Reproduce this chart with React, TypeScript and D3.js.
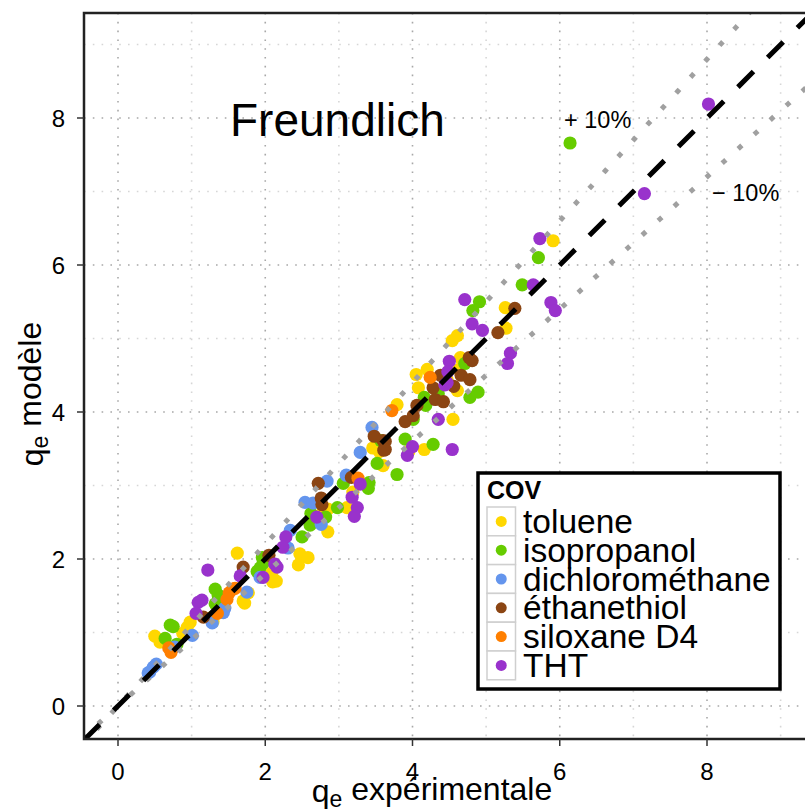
import React, { useEffect, useRef } from 'react';
import * as d3 from 'd3';

type Pt = [number, number];

// q_e expérimentale vs q_e modèle, one array per COV
const toluene: Pt[] = [
  [5.91, 6.33], [5.26, 5.42], [5.27, 5.14], [4.61, 5.04], [4.54, 4.97], [4.65, 4.74],
  [4.05, 4.51], [4.20, 4.58], [4.63, 4.58], [4.47, 4.44], [4.08, 4.33], [4.61, 4.29],
  [3.79, 4.10], [4.55, 3.90], [3.95, 3.46], [4.16, 3.49], [3.60, 3.27], [3.46, 3.51],
  [3.55, 3.46], [3.19, 2.91], [2.85, 2.68], [2.77, 2.62], [3.11, 2.70], [2.85, 2.37],
  [2.47, 2.07], [2.58, 2.02], [2.45, 1.92], [1.62, 2.08], [2.09, 1.81], [2.10, 1.69],
  [2.15, 1.70], [1.77, 1.54], [1.70, 1.43], [1.72, 1.40], [1.35, 1.36], [1.28, 1.21],
  [1.29, 1.15], [0.98, 1.14], [0.94, 1.07], [0.88, 0.99], [0.50, 0.95], [0.57, 0.87],
];
const isopropanol: Pt[] = [
  [6.14, 7.66], [5.71, 6.10], [5.49, 5.73], [4.91, 5.50], [4.82, 5.38], [4.71, 4.66],
  [4.16, 4.20], [4.18, 4.09], [4.35, 4.25], [4.78, 4.20], [4.89, 4.27], [4.01, 3.90],
  [3.90, 3.63], [4.28, 3.56], [3.79, 3.15], [3.57, 3.61], [3.52, 3.30], [3.06, 3.03],
  [3.41, 3.04], [3.40, 2.96], [2.98, 2.70], [2.62, 2.62], [2.61, 2.46], [2.82, 2.57],
  [2.50, 2.30], [1.96, 2.02], [1.97, 1.94], [1.93, 1.88], [1.89, 1.83], [1.32, 1.59],
  [1.36, 1.51], [1.32, 1.39], [1.37, 1.36], [0.71, 1.10], [0.75, 1.08], [0.64, 0.92],
  [0.80, 0.84],
];
const dichloromethane: Pt[] = [
  [3.45, 3.79], [3.29, 3.45], [3.10, 3.14], [2.84, 3.06], [2.54, 2.77], [2.65, 2.76],
  [2.76, 2.47], [2.34, 2.39], [2.31, 2.15], [1.93, 1.75], [1.75, 1.55], [1.45, 1.33],
  [1.43, 1.27], [1.28, 1.13], [1.01, 0.96], [0.77, 0.80], [0.43, 0.46], [0.48, 0.53],
  [0.52, 0.57], [0.41, 0.45],
];
const ethanethiol: Pt[] = [
  [5.39, 5.41], [5.16, 5.08], [4.77, 4.74], [4.81, 4.70], [4.38, 4.50], [4.66, 4.50],
  [4.78, 4.44], [4.28, 4.33], [4.56, 4.35], [4.31, 4.17], [4.42, 4.14], [4.06, 4.09],
  [3.90, 3.87], [4.01, 3.95], [3.60, 3.61], [3.61, 3.48], [3.48, 3.67], [3.63, 3.60],
  [3.63, 3.49], [3.17, 3.11], [2.72, 3.03], [2.76, 2.83], [2.77, 2.74], [2.05, 2.05],
  [1.70, 1.89], [1.16, 1.21],
];
const siloxaneD4: Pt[] = [
  [4.24, 4.47], [3.72, 4.02], [3.26, 3.10], [1.51, 1.54], [1.56, 1.59], [1.59, 1.60],
  [1.48, 1.45], [1.35, 1.26], [0.72, 0.73], [0.69, 0.79],
];
const tht: Pt[] = [
  [8.02, 8.19], [7.15, 6.97], [5.73, 6.36], [5.64, 5.73], [5.88, 5.49], [5.94, 5.38],
  [5.33, 4.80], [5.29, 4.66], [4.71, 5.53], [4.81, 5.20], [4.95, 5.11], [4.50, 4.69],
  [4.48, 4.55], [4.47, 4.40], [4.44, 4.37], [4.35, 3.90], [4.00, 3.53], [3.93, 3.41],
  [4.54, 3.49], [3.29, 3.02], [3.18, 2.84], [3.25, 2.70], [3.21, 2.58], [2.70, 2.57],
  [2.28, 2.30], [2.24, 2.16], [1.22, 1.85], [1.66, 1.77], [2.13, 1.93], [2.16, 1.89],
  [1.97, 1.75], [1.09, 1.41], [1.14, 1.44], [1.06, 1.26],
];

const seriesNames = ['toluene', 'isopropanol', 'dichlorométhane', 'éthanethiol', 'siloxane D4', 'THT'];
const seriesData = [toluene, isopropanol, dichloromethane, ethanethiol, siloxaneD4, tht];
const seriesColors = ['#FFD700', '#66CC00', '#6495ED', '#8B4513', '#FF7F00', '#9932CC'];

const majorTicks = [0, 2, 4, 6, 8];
const minorTicks = [1, 3, 5, 7, 9];
const bands = [1.1, 0.9]; // +10% / -10%

export default function App() {
  const svgRef = useRef<SVGSVGElement>(null);

  useEffect(() => {
    if (!svgRef.current) return;
    const svg = d3.select(svgRef.current);
    svg.selectAll('*').remove();

    const width = 805;
    const height = 811;
    const panel = { left: 84, top: 13, right: 840, bottom: 739 };
    const font = '"Liberation Sans", Arial, Helvetica, sans-serif';

    const x = d3.scaleLinear().domain([0, 8]).range([118, 707]);
    const y = d3.scaleLinear().domain([0, 8]).range([706, 118]);
    const xMin = x.invert(panel.left), xMax = x.invert(panel.right);

    svg.attr('width', width).attr('height', height).style('font-family', font);
    svg.append('rect').attr('width', width).attr('height', height).attr('fill', '#fff');

    svg.append('defs').append('clipPath').attr('id', 'panel-clip')
      .append('rect')
      .attr('x', panel.left).attr('y', panel.top)
      .attr('width', panel.right - panel.left).attr('height', panel.bottom - panel.top);

    const g = svg.append('g').attr('clip-path', 'url(#panel-clip)');

    // grid
    const grid = (ticks: number[], color: string) => {
      g.selectAll(null).data(ticks).enter().append('line')
        .attr('x1', d => x(d)).attr('x2', d => x(d))
        .attr('y1', panel.top).attr('y2', panel.bottom)
        .attr('stroke', color).attr('stroke-width', 1.6).attr('stroke-dasharray', '1.6 7.2');
      g.selectAll(null).data(ticks).enter().append('line')
        .attr('y1', d => y(d)).attr('y2', d => y(d))
        .attr('x1', panel.left).attr('x2', panel.right)
        .attr('stroke', color).attr('stroke-width', 1.6).attr('stroke-dasharray', '1.6 7.2');
    };
    grid(minorTicks, '#d6d6d6');
    grid(majorTicks, '#a8a8a8');

    // points
    seriesData.forEach((data, i) => {
      g.selectAll(null).data(data).enter().append('circle')
        .attr('cx', d => x(d[0])).attr('cy', d => y(d[1]))
        .attr('r', 6.6)
        .attr('fill', seriesColors[i]);
    });

    // +/- 10 % lines (diamond dots)
    bands.forEach(k => {
      g.append('line')
        .attr('x1', x(xMin)).attr('y1', y(xMin * k))
        .attr('x2', x(xMax)).attr('y2', y(xMax * k))
        .attr('stroke', '#a0a0a0').attr('stroke-width', 5)
        .attr('stroke-linecap', 'square').attr('stroke-dasharray', '0.01 21.5');
    });

    // 1:1 line
    g.append('line')
      .attr('x1', x(xMin)).attr('y1', y(xMin))
      .attr('x2', x(xMax)).attr('y2', y(xMax))
      .attr('stroke', '#000').attr('stroke-width', 5)
      .attr('stroke-dasharray', '22 20');

    // panel border
    svg.append('rect')
      .attr('x', panel.left).attr('y', panel.top)
      .attr('width', panel.right - panel.left).attr('height', panel.bottom - panel.top)
      .attr('fill', 'none').attr('stroke', '#222').attr('stroke-width', 2.5);

    // axes ticks + labels
    svg.selectAll(null).data(majorTicks).enter().append('line')
      .attr('x1', panel.left - 7).attr('x2', panel.left)
      .attr('y1', d => y(d)).attr('y2', d => y(d))
      .attr('stroke', '#333').attr('stroke-width', 1.5);
    svg.selectAll(null).data(majorTicks).enter().append('text')
      .attr('x', 65).attr('y', d => y(d) + 8.5)
      .attr('text-anchor', 'end').style('font-size', '24px')
      .text(d => d);
    svg.selectAll(null).data(majorTicks).enter().append('line')
      .attr('x1', d => x(d)).attr('x2', d => x(d))
      .attr('y1', panel.bottom).attr('y2', panel.bottom + 7)
      .attr('stroke', '#333').attr('stroke-width', 1.5);
    svg.selectAll(null).data(majorTicks).enter().append('text')
      .attr('x', d => x(d)).attr('y', 780)
      .attr('text-anchor', 'middle').style('font-size', '24px')
      .text(d => d);

    // axis titles with subscript
    const subTitle = (sel: d3.Selection<SVGTextElement, unknown, null, undefined>, rest: string) => {
      sel.append('tspan').text('q');
      sel.append('tspan').attr('dy', '0.2em').style('font-size', '23px').text('e');
      sel.append('tspan').attr('dy', '-0.2em').text(rest);
    };
    const xt = svg.append('text')
      .attr('x', 432).attr('y', 802).attr('text-anchor', 'middle')
      .style('font-size', '32px');
    subTitle(xt as any, ' expérimentale');
    const yt = svg.append('text')
      .attr('transform', 'translate(43,394) rotate(-90)').attr('text-anchor', 'middle')
      .style('font-size', '32px');
    subTitle(yt as any, ' modèle');

    // annotations
    svg.append('text').attr('x', 230).attr('y', 136).style('font-size', '46px').text('Freundlich');
    svg.append('text').attr('x', 564).attr('y', 128).style('font-size', '23.5px').text('+ 10%');
    svg.append('text').attr('x', 712).attr('y', 201).style('font-size', '23.5px').text('\u2212 10%');

    // legend
    const lg = svg.append('g');
    lg.append('rect')
      .attr('x', 478).attr('y', 473).attr('width', 302).attr('height', 216)
      .attr('fill', '#fff').attr('stroke', '#000').attr('stroke-width', 3.5);
    lg.append('text').attr('x', 487).attr('y', 499)
      .style('font-size', '25px').style('font-weight', 'bold').text('COV');
    const rows = lg.selectAll('g.row').data(seriesNames).enter().append('g')
      .attr('class', 'row')
      .attr('transform', (_d, i) => `translate(487,${507 + i * 28.8})`);
    rows.append('rect').attr('width', 28.5).attr('height', 28.8)
      .attr('fill', '#fff').attr('stroke', '#cfcfcf').attr('stroke-width', 1.5);
    rows.append('circle').attr('cx', 14.25).attr('cy', 14.4).attr('r', 5.5)
      .attr('fill', (_d, i) => seriesColors[i]);
    rows.append('text').attr('x', 36).attr('y', 26)
      .style('font-size', '33.5px').text(d => d);
  }, []);

  return (
    <div style={{ position: 'absolute', left: 0, top: 0 }}>
      <svg ref={svgRef}></svg>
    </div>
  );
}
